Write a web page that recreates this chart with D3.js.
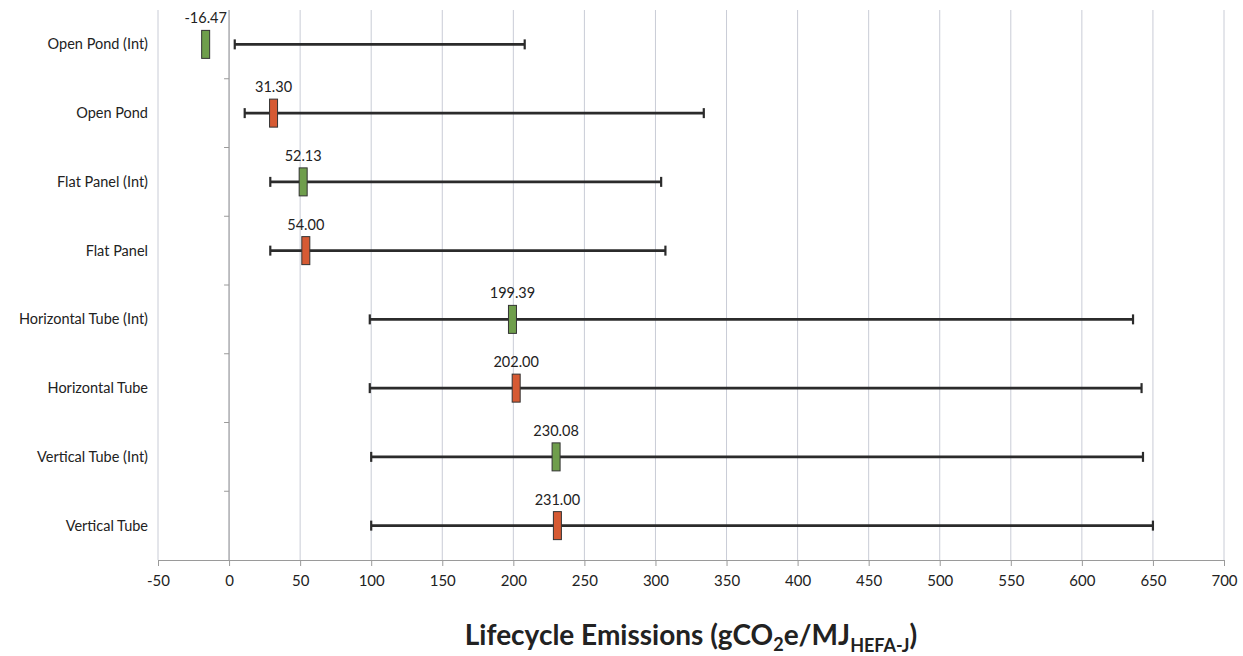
<!DOCTYPE html>
<html>
<head>
<meta charset="utf-8">
<script src="https://cdn.jsdelivr.net/npm/d3@7"></script>
<style>
  body { margin: 0; background: #fff; }
  text { font-family: Lato, "Open Sans", sans-serif; fill: #222; }
</style>
</head>
<body>
<svg id="chart"></svg>
<script>
// data
let categories = ['Open Pond (Int)', 'Open Pond', 'Flat Panel (Int)', 'Flat Panel',
                  'Horizontal Tube (Int)', 'Horizontal Tube', 'Vertical Tube (Int)', 'Vertical Tube'];
let central = [-16.47, 31.30, 52.13, 54.00, 199.39, 202.00, 230.08, 231.00];
let lows    = [4, 11, 29, 29, 99, 99, 100, 100];
let highs   = [208, 334, 304, 307, 636, 642, 643, 650];
let isInt   = [true, false, true, false, true, false, true, false];
let xTicks  = d3.range(-50, 701, 50);

let w = 1243, h = 656;
let margin = {top: 10, left: 158, right: 19, bottom: 96};

let svg = d3.select('#chart')
    .attr('width', w)
    .attr('height', h);

let x = d3.scaleLinear()
    .domain([-50, 700])
    .range([margin.left, w - margin.right]);

let y = d3.scaleBand()
    .domain(categories)
    .range([margin.top, h - margin.bottom]);

let rows = categories.map((c, i) => ({
    name: c, value: central[i], low: lows[i], high: highs[i], int: isInt[i]
}));

// vertical gridlines
svg.append('g')
    .selectAll('line')
    .data(xTicks)
    .enter()
    .append('line')
    .attr('x1', d => x(d)).attr('x2', d => x(d))
    .attr('y1', margin.top).attr('y2', h - margin.bottom)
    .attr('stroke', '#c9ccd6')
    .attr('stroke-width', 1);

// x axis
let xAxis = svg.append('g')
    .attr('transform', `translate(0,${h - margin.bottom})`)
    .call(d3.axisBottom(x).tickValues(xTicks).tickSize(6).tickPadding(9).tickFormat(d => String(d)));
xAxis.select('.domain').attr('stroke', '#9a9a9a');
xAxis.selectAll('.tick line').attr('stroke', '#9a9a9a');
xAxis.selectAll('text')
    .style('font-family', 'Lato, sans-serif')
    .style('font-size', '15px')
    .attr('fill', '#333');

// category axis crossing at 0
svg.append('line')
    .attr('x1', x(0)).attr('x2', x(0))
    .attr('y1', margin.top).attr('y2', h - margin.bottom)
    .attr('stroke', '#9a9a9a');

svg.append('g')
    .selectAll('line')
    .data(categories.slice(1))
    .enter()
    .append('line')
    .attr('x1', x(0) - 5).attr('x2', x(0))
    .attr('y1', d => y(d)).attr('y2', d => y(d))
    .attr('stroke', '#9a9a9a');

// category labels
svg.append('g')
    .selectAll('text')
    .data(categories)
    .enter()
    .append('text')
    .attr('x', 148)
    .attr('y', d => y(d) + y.bandwidth() / 2 + 5)
    .attr('text-anchor', 'end')
    .style('font-size', '14.5px')
    .text(d => d);

// error bars
let bars = svg.append('g')
    .selectAll('g')
    .data(rows)
    .enter()
    .append('g')
    .attr('transform', d => `translate(0,${y(d.name) + y.bandwidth() / 2})`);

bars.append('line')
    .attr('x1', d => x(d.low)).attr('x2', d => x(d.high))
    .attr('y1', 0).attr('y2', 0)
    .attr('stroke', '#2b2b2b')
    .attr('stroke-width', 2.8);

bars.append('line')
    .attr('x1', d => x(d.low)).attr('x2', d => x(d.low))
    .attr('y1', -5).attr('y2', 5)
    .attr('stroke', '#2b2b2b')
    .attr('stroke-width', 2.2);

bars.append('line')
    .attr('x1', d => x(d.high)).attr('x2', d => x(d.high))
    .attr('y1', -5).attr('y2', 5)
    .attr('stroke', '#2b2b2b')
    .attr('stroke-width', 2.2);

// markers
bars.append('rect')
    .attr('x', d => x(d.value) - 4)
    .attr('y', -14)
    .attr('width', 8)
    .attr('height', 28)
    .attr('fill', d => d.int ? '#6f9e4c' : '#d65a33')
    .attr('stroke', '#333')
    .attr('stroke-width', 1);

bars.append('text')
    .attr('x', d => x(d.value))
    .attr('y', -21)
    .attr('text-anchor', 'middle')
    .style('font-size', '14.5px')
    .text(d => d.value.toFixed(2));

// axis title
let title = svg.append('text')
    .attr('x', 691)
    .attr('y', 645)
    .attr('text-anchor', 'middle')
    .style('font-size', '28px')
    .style('font-weight', 'bold')
    .attr('fill', '#222');
title.append('tspan').text('Lifecycle Emissions (gCO');
title.append('tspan').attr('dy', 6).style('font-size', '18px').text('2');
title.append('tspan').attr('dy', -6).text('e/MJ');
title.append('tspan').attr('dy', 7).style('font-size', '18px').text('HEFA-J');
title.append('tspan').attr('dy', -7).text(')');
</script>
</body>
</html>
